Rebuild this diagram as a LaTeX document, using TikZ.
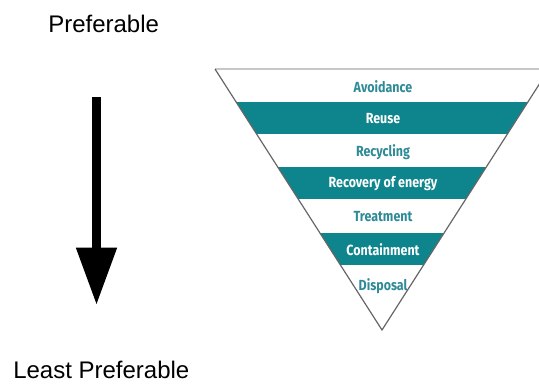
\documentclass[tikz,border=0pt]{standalone}
\usepackage{fontspec}
\setmainfont{Liberation Sans}
\newfontfamily\bandfont[FakeStretch=0.85]{Fira Sans}
\usetikzlibrary{arrows.meta}
\definecolor{bandteal}{RGB}{14,133,140}
\definecolor{labelteal}{RGB}{45,138,150}
\tikzset{
  endlabel/.style={font=\fontsize{18}{20}\selectfont, anchor=base west, inner sep=0pt},
  bandlabel/.style={font=\bandfont\bfseries\fontsize{11}{13}\selectfont, text=labelteal},
  onteal/.style={bandlabel, text=white},
}

\begin{document}
\begin{tikzpicture}[x=0.75pt,y=-0.75pt]
        \useasboundingbox (0,0) rectangle (539,383);
        \clip (0,0) rectangle (539,383);

        % preference arrow
        \node[endlabel] (pref) at (48,32) {Preferable};
        \node[endlabel] (least) at (13,378) {Least Preferable};
        \coordinate (arrtop) at (96.5,97);
        \coordinate (arrtip) at (96.5,305);
        \draw[line width=6.75pt, -{Triangle[width=29pt,length=43pt]}] (arrtop) -- (arrtip);

        % waste hierarchy
        \coordinate (tl) at (215,69);
        \coordinate (tr) at (549,69);
        \coordinate (apex) at (382,330);
        \begin{scope}
            \clip (tl) -- (tr) -- (apex) -- cycle;
            \fill[bandteal] (200,102) rectangle (560,134);
            \fill[bandteal] (200,167) rectangle (560,199);
            \fill[bandteal] (200,233) rectangle (560,265);
        \end{scope}
        \draw[black!22, line width=1.5pt] (tl) -- (tr);
        \draw[black!60, line width=0.9pt] (tr) -- (apex) -- (tl);

        \node[bandlabel] (avoid) at (383,87) {Avoidance};
        \node[onteal] (reuse) at (383,119) {Reuse};
        \node[bandlabel] (recyc) at (383,152) {Recycling};
        \node[onteal] (recov) at (383,184) {Recovery of energy};
        \node[bandlabel] (treat) at (383,217) {Treatment};
        \node[onteal] (contain) at (383,250) {Containment};
        \node[bandlabel] (dispose) at (383,286) {Disposal};
    \end{tikzpicture}
\end{document}
